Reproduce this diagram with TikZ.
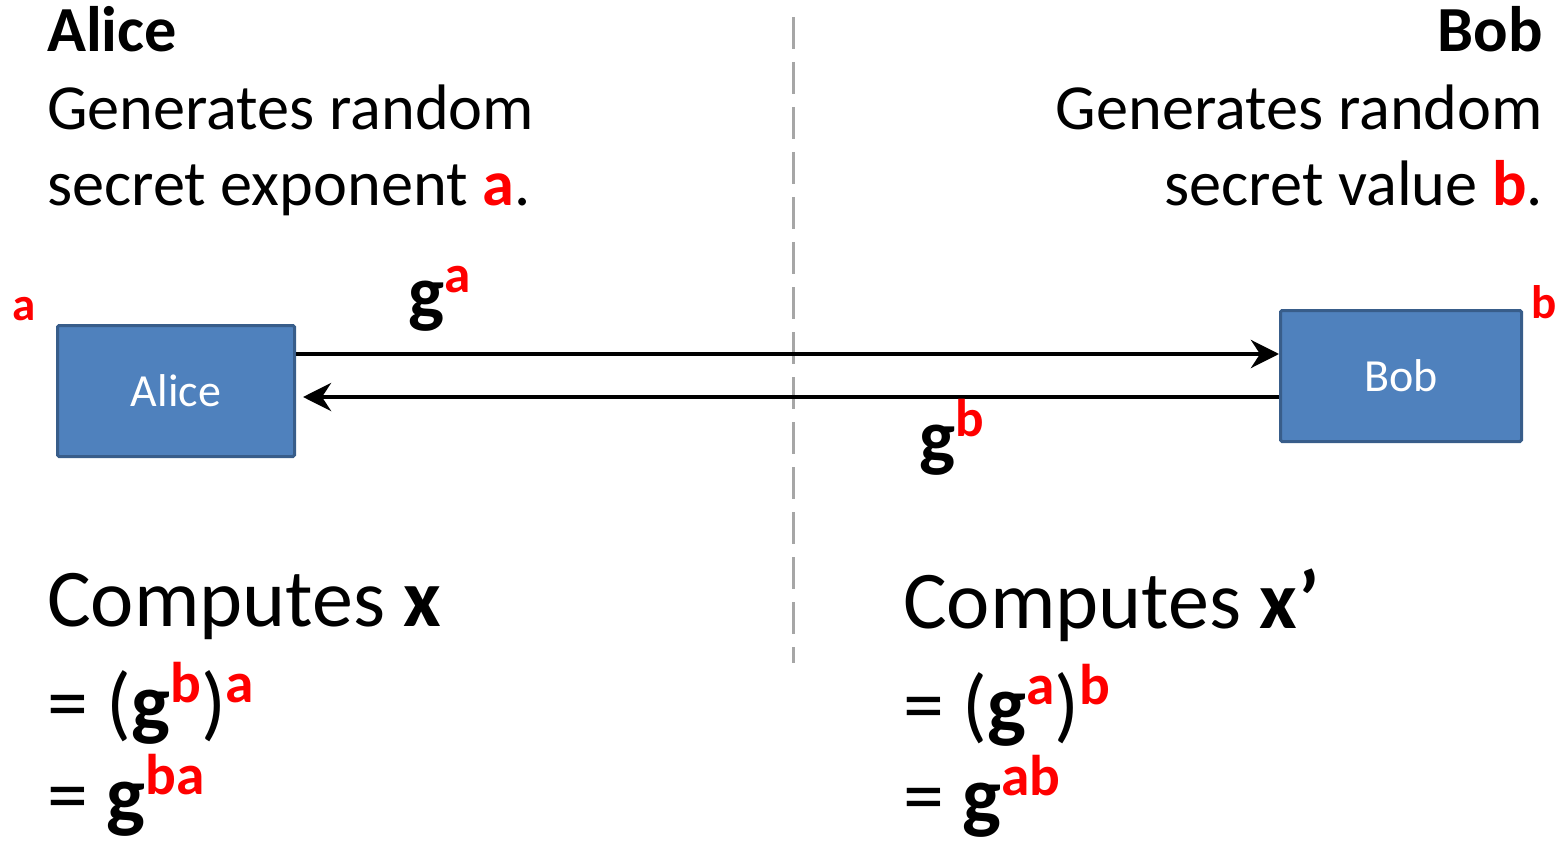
\documentclass[tikz,border=0pt]{standalone}
\usepackage{fontspec}
\usepackage{graphicx}
\setmainfont{Carlito}
\usetikzlibrary{arrows.meta}
\definecolor{boxfill}{HTML}{4F81BD}
\definecolor{boxline}{HTML}{385D8A}
\definecolor{dashgray}{HTML}{A6A6A6}
\definecolor{kred}{HTML}{FF0000}
\newcommand\rd[1]{\textcolor{kred}{\textbf{#1}}}
\newcommand\sps[1]{\raisebox{0.34em}{\scalebox{0.7}{#1}}}
\begin{document}
\begin{tikzpicture}[x=1pt,y=-1pt,
  txt/.style={inner sep=0pt, font=\fontsize{64.3}{78}\selectfont},
  big/.style={inner sep=0pt, font=\fontsize{82}{90}\selectfont},
  glabel/.style={inner sep=0pt, font=\fontsize{76}{90}\selectfont\bfseries},
  corner/.style={inner sep=0pt, text=kred, font=\fontsize{47}{50}\selectfont\bfseries},
  party/.style={draw=boxline, fill=boxfill, line width=3pt, text=white,
    font=\fontsize{46}{50}\selectfont, rounded corners=1.5pt, inner sep=0pt},
  msg/.style={line width=4.5pt, -{Stealth[length=28pt,width=28pt,inset=9pt]}},
  divider/.style={draw=dashgray, line width=3pt, dash pattern=on 32pt off 13pt}
]
\useasboundingbox (0,0) rectangle (1557,842);

% divider
\coordinate (dtop) at (793,17);
\coordinate (dbot) at (793,663);
\draw[divider] (dtop) -- (dbot);

% headers
\node[txt, anchor=base west] (ha) at (47,52) {\textbf{Alice}};
\node[txt, anchor=base west] (ha1) at (47,130) {Generates random};
\node[txt, anchor=base west] (ha2) at (47,206) {secret exponent \rd{a}.};
\node[txt, anchor=base east] (hb) at (1543,52) {\textbf{Bob}};
\node[txt, anchor=base east] (hb1) at (1543,130) {Generates random};
\node[txt, anchor=base east] (hb2) at (1543,206) {secret value \rd{b}.};

% boxes
\node[party, minimum width=237pt, minimum height=131pt] (alice) at (176,391) {Alice};
\node[party, minimum width=241pt, minimum height=131pt] (bob) at (1401,376) {Bob};
\node[corner, anchor=base west] (ca) at (12,320) {a};
\node[corner, anchor=base west] (cb) at (1531,318) {b};

% messages
\draw[msg] ([yshift=37pt]alice.east) -- ([yshift=22pt]bob.west);
\draw[msg] ([yshift=-21pt]bob.west) -- ([yshift=-6pt,xshift=7pt]alice.east);
\node[glabel, anchor=base west] (ga) at (408,318) {g\sps{\rd{a}}};
\node[glabel, anchor=base west] (gb) at (919,462) {g\sps{\rd{b}}};

% computations
\node[big, anchor=base west] (ca1) at (47,626) {Computes \textbf{x}};
\node[big, anchor=base west] (ca2) at (47,730) {= (\textbf{g}\sps{\rd{b}})\sps{\rd{a}}};
\node[big, anchor=base west] (ca3) at (47,822) {= \textbf{g}\sps{\rd{ba}}};
\node[big, anchor=base west] (cb1) at (903,628) {Computes \textbf{x’}};
\node[big, anchor=base west] (cb2) at (903,732) {= (\textbf{g}\sps{\rd{a}})\sps{\rd{b}}};
\node[big, anchor=base west] (cb3) at (903,823) {= \textbf{g}\sps{\rd{ab}}};
\end{tikzpicture}
\end{document}
